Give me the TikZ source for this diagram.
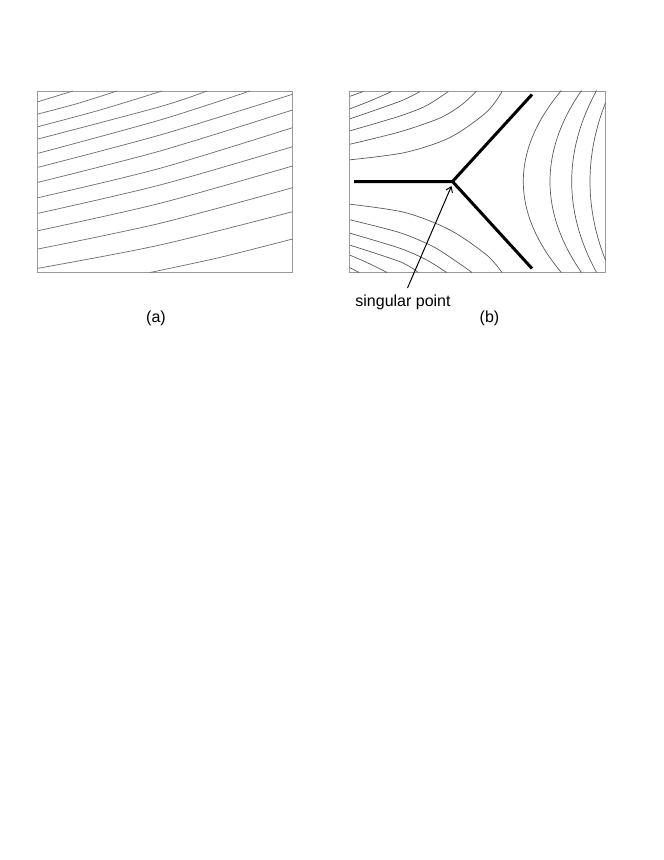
\documentclass[tikz,border=0pt]{standalone}
\usepackage{fontspec}
\setmainfont{Liberation Sans}
\usetikzlibrary{arrows.meta}
\tikzset{
  frame/.style={draw=black!40, line width=0.9pt},
  flowa/.style={draw=black!55, line width=0.75pt},
  flowb/.style={draw=black!65, line width=0.7pt},
  ridge/.style={draw=black, line width=3pt},
  pointer/.style={draw=black, line width=1pt, -{Straight Barb[length=5pt,width=7pt]}},
  lbl/.style={font=\fontsize{16}{19}\selectfont, inner sep=0pt, anchor=base}
}
\begin{document}
\begin{tikzpicture}[x=1pt,y=-1pt]
\useasboundingbox (0,0) rectangle (664,860);
% ---------- panel (a)
\draw[frame] (37.5,91) rectangle (292.5,272.5);
\draw[flowa] (38,101.7) -- (73,91);
\draw[flowa] plot[smooth] coordinates {(38,114) (77.5,103.5) (117,91)};
\draw[flowa] plot[smooth] coordinates {(38,126.7) (100,110) (162,91)};
\draw[flowa] plot[smooth] coordinates {(38,139) (160,106.7) (207,91)};
\draw[flowa] plot[smooth] coordinates {(38,153.3) (160,120) (250,91)};
\draw[flowa] plot[smooth] coordinates {(38,167.3) (160,135) (292.5,94.3)};
\draw[flowa] plot[smooth] coordinates {(38,182.3) (160,151) (292.5,110)};
\draw[flowa] plot[smooth] coordinates {(38,197.7) (160,168.3) (292.5,127.7)};
\draw[flowa] plot[smooth] coordinates {(38,213.3) (160,185) (292.5,146.7)};
\draw[flowa] plot[smooth] coordinates {(38,230.7) (160,203.3) (292.5,166)};
\draw[flowa] plot[smooth] coordinates {(38,249) (160,223.3) (292.5,187.7)};
\draw[flowa] plot[smooth] coordinates {(38,268.3) (160,245) (292.5,211.7)};
\draw[flowa] plot[smooth] coordinates {(150,272.5) (220,257.4) (292.5,239)};
\node[lbl] (la) at (156,322) {(a)};
% ---------- panel (b)
\draw[frame] (349.5,91.5) rectangle (605.5,272.5);
% upper-left family
\draw[flowb] plot[smooth] coordinates {(350,159.8) (405,152.5) (450,137.5) (486.7,112) (502,91.5)};
\draw[flowb] plot[smooth] coordinates {(350,144.2) (400,131.8) (440,118) (462,104.5) (476,91.5)};
\draw[flowb] plot[smooth] coordinates {(350,130.8) (400,116) (426.7,105.5) (448.3,91.5)};
\draw[flowb] plot[smooth] coordinates {(350,118.8) (400,101.3) (420,91.5)};
\draw[flowb] plot[smooth] coordinates {(350,108.8) (370,101) (391.7,91.5)};
\draw[flowb] (350,96.3) -- (363.3,91.5);
% lower-left family
\draw[flowb] plot[smooth] coordinates {(350,204.2) (405,212.5) (450,230) (486.7,255) (502,272.5)};
\draw[flowb] plot[smooth] coordinates {(350,219.8) (400,232.7) (433.3,246.7) (456.7,261.7) (472,272.5)};
\draw[flowb] plot[smooth] coordinates {(350,233.2) (400,248.3) (426.7,260) (446.7,272.5)};
\draw[flowb] plot[smooth] coordinates {(350,245.2) (400,261.7) (418.3,272.5)};
\draw[flowb] plot[smooth] coordinates {(350,255.2) (368,263) (387,272.5)};
\draw[flowb] (350,267.7) -- (359,272.5);
% right family
\draw[flowb] plot[domain=-91:91, samples=61, smooth] ({523.3+0.0046*\x*\x},{181.5+\x});
\draw[flowb] plot[domain=-91:91, samples=61, smooth] ({550+0.0038*\x*\x},{181.5+\x});
\draw[flowb] plot[domain=-91:91, samples=61, smooth] ({571.7+0.0030*\x*\x},{181.5+\x});
\draw[flowb] plot[domain=-78.7:78.7, samples=51, smooth] ({590+0.0025*\x*\x},{181.5+\x});
% ridges
\coordinate (J) at (452.5,181.5);
\coordinate (RL) at (354,181.5);
\coordinate (RU) at (532,94.5);
\coordinate (RD) at (532,268.5);
\draw[ridge] (RL) -- (J) -- (RU);
\draw[ridge] (J) -- (RD);
% label and pointer
\node[lbl] (sp) at (403,306.7) {singular point};
\coordinate (tail) at (407.5,288);
\coordinate (tip) at (451.5,186);
\draw[pointer] (tail) -- (tip);
\node[lbl] (lb) at (489.5,322.5) {(b)};
\end{tikzpicture}
\end{document}
